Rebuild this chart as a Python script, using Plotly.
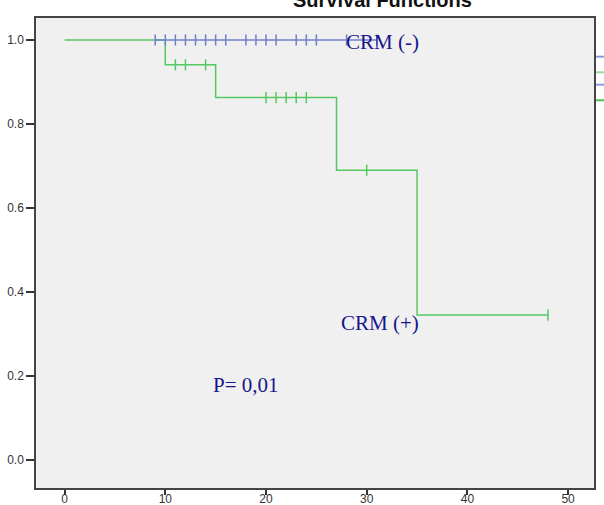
import numpy as np
import plotly.graph_objects as go

# CRM (+) group: Kaplan-Meier steps
pos_step_times = [0, 10, 15, 27, 35, 48]
pos_step_surv = [1.0, 0.941, 0.863, 0.690, 0.345, 0.345]
pos_censor_times = [11, 12, 14, 20, 21, 22, 23, 24, 30, 48]

# CRM (-) group: no events, censored only
neg_censor_times = [9, 10, 11, 12, 13, 14, 15, 16, 18, 19, 20, 21, 23, 24, 25, 28, 31]
neg_surv = [1.0] * len(neg_censor_times)

x_ticks = [0, 10, 20, 30, 40, 50]
y_ticks = [0.0, 0.2, 0.4, 0.6, 0.8, 1.0]
y_tick_text = ["0.0", "0.2", "0.4", "0.6", "0.8", "1.0"]

GREEN = "#55c860"
BLUE = "#6f82c8"
NAVY = "#16168c"


def step_value(t):
    idx = np.searchsorted(pos_step_times, t, side="right") - 1
    return pos_step_surv[idx]


pos_censor_surv = [step_value(t) for t in pos_censor_times]

fig = go.Figure()
fig.add_trace(go.Scatter(
    x=pos_step_times, y=pos_step_surv, mode="lines",
    line=dict(color=GREEN, width=1.5, shape="hv"), hoverinfo="skip"))
fig.add_trace(go.Scatter(
    x=pos_censor_times, y=pos_censor_surv, mode="markers",
    marker=dict(symbol="line-ns", size=8, line=dict(color=GREEN, width=1.5)),
    hoverinfo="skip"))
fig.add_trace(go.Scatter(
    x=neg_censor_times, y=neg_surv, mode="lines+markers",
    line=dict(color=BLUE, width=1.5),
    marker=dict(symbol="line-ns", size=8, line=dict(color=BLUE, width=1.5)),
    hoverinfo="skip"))

ann_font = dict(family="Liberation Serif, Times New Roman, serif", size=21, color=NAVY)
fig.add_annotation(x=27.75, y=0.995, text="CRM (-)", showarrow=False,
                   xanchor="left", yanchor="middle", font=ann_font)
fig.add_annotation(x=27.25, y=0.326, text="CRM (+)", showarrow=False,
                   xanchor="left", yanchor="middle", font=ann_font)
fig.add_annotation(x=14.54, y=0.179, text="P= 0,01", showarrow=False,
                   xanchor="left", yanchor="middle", font=ann_font)

# title, cut off at the top of the page as in the reference
fig.add_annotation(xref="paper", yref="paper", x=(382 - 36) / 558, y=1.011,
                   text="<b>Survival Functions</b>", showarrow=False,
                   xanchor="center", yanchor="bottom",
                   font=dict(family="Liberation Sans, Arial, sans-serif", size=20, color="#111"))

# legend remnants at right edge
legend_y_px = [56.7, 72.3, 84.7, 100.3]
legend_cols = ["#8c9bd8", "#9cdaa3", "#8c9bd8", "#4cc552"]
for ypx, col in zip(legend_y_px, legend_cols):
    yp = (488 - ypx) / 470
    fig.add_shape(type="line", xref="paper", yref="paper",
                  x0=(596 - 36) / 558, x1=(605 - 36) / 558, y0=yp, y1=yp,
                  line=dict(color=col, width=2))

tick_font = dict(family="Liberation Sans, Arial, sans-serif", size=12, color="#333")
fig.update_xaxes(range=[-2.84, 52.57], tickvals=x_ticks, ticks="outside", ticklen=5,
                 tickwidth=1.5, tickcolor="#333", showgrid=False, zeroline=False,
                 showline=True, mirror=True, linecolor="#444", linewidth=1.5,
                 tickfont=tick_font, automargin=False, ticklabelstandoff=-6)
fig.update_yaxes(range=[-0.0667, 1.0524], tickvals=y_ticks, ticktext=y_tick_text,
                 ticks="outside", ticklen=8, tickwidth=1.5, tickcolor="#333",
                 showgrid=False, zeroline=False, showline=True, mirror=True,
                 linecolor="#444", linewidth=1.5, tickfont=tick_font, automargin=False)

fig.update_layout(width=604, height=505, showlegend=False,
                  margin=dict(l=36, r=10, t=18, b=17, autoexpand=False),
                  plot_bgcolor="#f0f0f0", paper_bgcolor="white")

fig.write_html("out.html", config={"displayModeBar": False},
               post_script="document.body.style.margin='0';document.body.style.overflow='hidden';")
